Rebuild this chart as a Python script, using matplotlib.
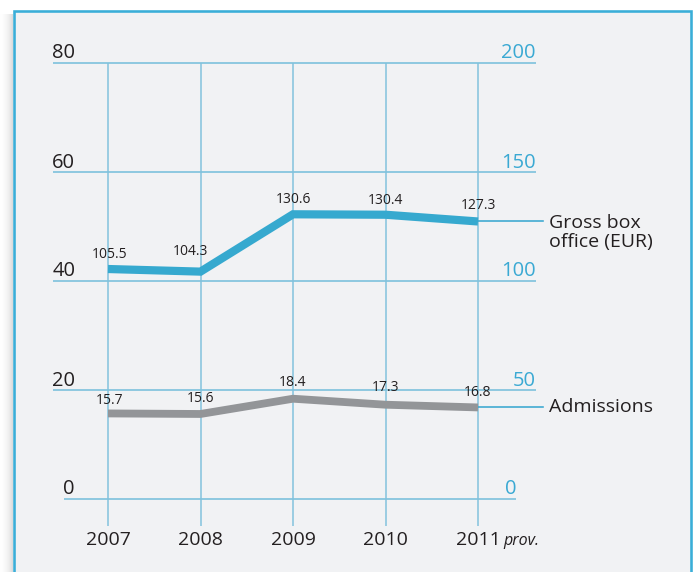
import matplotlib
matplotlib.use("Agg")
import matplotlib.pyplot as plt
from matplotlib.patches import Rectangle
import numpy as np

plt.rcParams['font.family'] = ['Open Sans', 'DejaVu Sans']

# ---- data ----
years = [2007, 2008, 2009, 2010, 2011]
year_labels = ['2007', '2008', '2009', '2010', '2011']
gross = [105.5, 104.3, 130.6, 130.4, 127.3]        # right axis (EUR m)
admissions = [15.7, 15.6, 18.4, 17.3, 16.8]        # left axis (m)
left_ticks = [0, 20, 40, 60, 80]
right_ticks = [0, 50, 100, 150, 200]
gross_name = 'Gross box\noffice (EUR)'
adm_name = 'Admissions'

# ---- styling ----
BLUE = '#36a9cf'
GRID = '#80c2dd'
GRAY = '#939598'
TEXT = '#231f20'
BG = '#f1f2f4'

W, H = 694, 572
fig = plt.figure(figsize=(W / 100, H / 100), dpi=100)
fig.patch.set_facecolor('white')

def px(v):
    return v * 72 / 100.0   # pixels -> points

# shadow on the left
sh = fig.add_axes([0, 0, 13 / W, (H - 14) / H])
grad = np.linspace(0, 1, 50)[None, :] ** 1.6
sh.imshow(grad, aspect='auto', cmap='Greys', vmin=0, vmax=4.0, extent=[0, 1, 0, 1])
sh.axis('off')

# panel with border
fig.patches.append(Rectangle((13.8 / W, -0.02), (690.5 - 13.8) / W, (H - 11.2) / H + 0.02,
                             transform=fig.transFigure, facecolor=BG,
                             edgecolor='#3aaed8', linewidth=px(2.6), zorder=-5))

# axes placement (pixels)
ax_l, ax_r, ax_b, ax_t = 53, 536, 499, 63
x0_px, x1_px = 108, 478
ppy = (x1_px - x0_px) / (years[-1] - years[0])
xlim = (years[0] - (x0_px - ax_l) / ppy, years[-1] + (ax_r - x1_px) / ppy)

ax = fig.add_axes([ax_l / W, (H - ax_b) / H, (ax_r - ax_l) / W, (ax_b - ax_t) / H])
ax.set_xlim(*xlim)
ax.set_ylim(left_ticks[0], left_ticks[-1])
ax.axis('off')
ax2 = ax.twinx()
ax2.set_ylim(right_ticks[0], right_ticks[-1])
ax2.axis('off')

ypu = (ax_b - ax_t) / (left_ticks[-1] - left_ticks[0])  # px per left unit

# vertical grid lines
ax.vlines(years, -27 / ypu, left_ticks[-1], colors=GRID, linewidth=px(1.5),
          clip_on=False, zorder=1)

# horizontal grid lines + tick labels
for i, (lv, rv) in enumerate(zip(left_ticks, right_ticks)):
    if lv == 0:
        xa = years[0] - (x0_px - 64) / ppy
        xb = years[-1] + (516 - x1_px) / ppy
    else:
        xa, xb = xlim
    ax.hlines(lv, xa, xb, colors=GRID, linewidth=px(1.7), clip_on=False, zorder=1)
    ax.annotate(str(lv), (xa, lv), xytext=(-0.5, px(4.5)), textcoords='offset points',
                ha='left', va='baseline', fontsize=14.5, color=TEXT, annotation_clip=False)
    ax.annotate(str(rv), (xb, lv), xytext=(0, px(4.5)), textcoords='offset points',
                ha='right', va='baseline', fontsize=14.5, color='#3aa9d3', annotation_clip=False)

# year labels
for yr, lab in zip(years, year_labels):
    ax.annotate(lab, (yr, 0), xytext=(0, -px(41)), textcoords='offset points',
                ha='center', va='center', fontsize=14, color=TEXT, annotation_clip=False)
ax.annotate('prov.', (years[-1], 0), xytext=(px(25), -px(42)), textcoords='offset points',
            ha='left', va='center', fontsize=11.5, style='italic', color=TEXT,
            annotation_clip=False)

# series lines
ax.plot(years, admissions, color=GRAY, linewidth=px(7.8), solid_capstyle='butt',
        solid_joinstyle='miter', zorder=3, clip_on=False)
ax2.plot(years, gross, color=BLUE, linewidth=px(8.2), solid_capstyle='butt',
         solid_joinstyle='miter', zorder=3, clip_on=False)

# value labels
adm_off = [(2, 13), (0, 15), (0, 16), (0, 17), (0, 14.5)]
gross_off = [(2, 15), (-10, 20), (0, 15), (0, 14), (0, 16)]
for yr, v, (dx, dy) in zip(years, admissions, adm_off):
    ax.annotate(f'{v:.1f}', (yr, v), xytext=(px(dx), px(dy)), textcoords='offset points',
                ha='center', va='center', fontsize=10, color=TEXT, zorder=5)
for yr, v, (dx, dy) in zip(years, gross, gross_off):
    ax2.annotate(f'{v:.1f}', (yr, v), xytext=(px(dx), px(dy)), textcoords='offset points',
                 ha='center', va='center', fontsize=10, color=TEXT, zorder=5)

# leader lines + series names
lead = 65 / ppy
ax.plot([years[-1], years[-1] + lead], [admissions[-1]] * 2, color='#3aa8d0',
        linewidth=px(1.6), clip_on=False, zorder=2)
ax2.plot([years[-1], years[-1] + lead], [gross[-1]] * 2, color='#3aa8d0',
         linewidth=px(1.6), clip_on=False, zorder=2)
ax.annotate(adm_name, (years[-1], admissions[-1]), xytext=(px(71), 0),
            textcoords='offset points', ha='left', va='center', fontsize=14,
            color=TEXT, annotation_clip=False)
ax2.annotate(gross_name, (years[-1], gross[-1]), xytext=(px(71), -px(11)),
             textcoords='offset points', ha='left', va='center', fontsize=14,
             color=TEXT, linespacing=1.12, annotation_clip=False)

fig.savefig('out.png', dpi=100)
